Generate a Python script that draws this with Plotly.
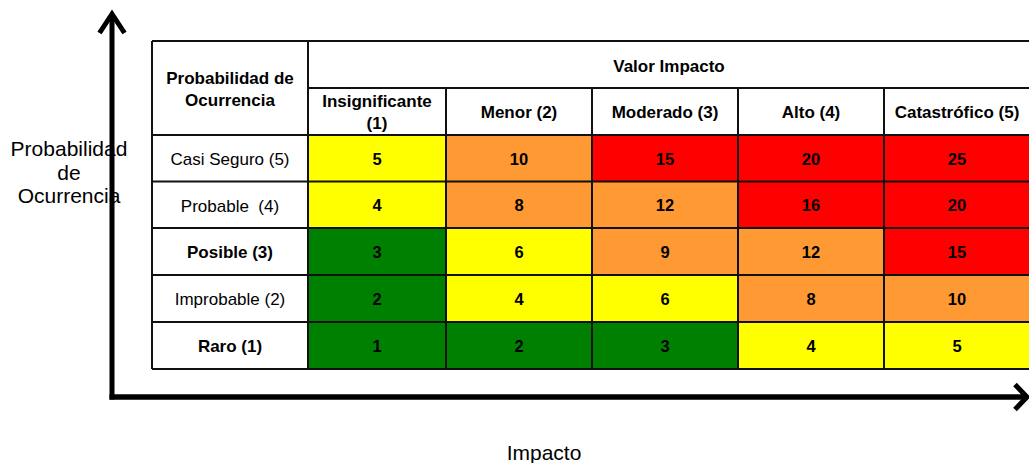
import plotly.graph_objects as go

# ---- content -------------------------------------------------------------
impact_levels = ["Insignificante<br>(1)", "Menor (2)", "Moderado (3)", "Alto (4)", "Catastrófico (5)"]
probability_levels = ["Casi Seguro (5)", "Probable \u00a0(4)", "Posible (3)", "Improbable (2)", "Raro (1)"]
risk_values = [
    [5, 10, 15, 20, 25],
    [4, 8, 12, 16, 20],
    [3, 6, 9, 12, 15],
    [2, 4, 6, 8, 10],
    [1, 2, 3, 4, 5],
]
corner_header = "Probabilidad de<br>Ocurrencia"
impact_header = "Valor Impacto"
y_title_lines = ["Probabilidad", "de", "Ocurrencia"]
x_title = "Impacto"

# ---- layout geometry (canvas units, y grows downward) ---------------------
W, H = 1029, 463
TABLE_LEFT = 152
TABLE_TOP = 41
HEADER_SPLIT = 88
COL_EDGES = [308, 446, 592, 738, 884, 1030]
ROW_EDGES = [135, 181.5, 228, 275, 322, 369]
bold_rows = [False, False, True, False, True]
TEXT_DY = 2.5  # optical baseline correction for centred text
Y_TITLE_POS = [148, 172, 195]

FONT = "Liberation Sans, Arial, sans-serif"
GREEN, YELLOW, ORANGE, RED = "#008000", "#FFFF00", "#FF9933", "#FF0000"
# risk bands: 1-3 low, 4-6 medium, 8-12 high, 15-25 extreme
colorscale = [
    [0.0, GREEN], [0.14, GREEN],
    [0.14, YELLOW], [0.28, YELLOW],
    [0.28, ORANGE], [0.52, ORANGE],
    [0.52, RED], [1.0, RED],
]

col_centers = [(a + b) / 2 for a, b in zip(COL_EDGES[:-1], COL_EDGES[1:])]
row_centers = [(a + b) / 2 + TEXT_DY for a, b in zip(ROW_EDGES[:-1], ROW_EDGES[1:])]
label_center = (TABLE_LEFT + COL_EDGES[0]) / 2

fig = go.Figure()

# coloured risk cells
fig.add_trace(go.Heatmap(
    x=COL_EDGES, y=ROW_EDGES, z=risk_values,
    colorscale=colorscale, zmin=0, zmax=25,
    showscale=False, hoverinfo="skip",
))

# risk value in each cell
cx, cy, ct = [], [], []
for i, row in enumerate(risk_values):
    for j, v in enumerate(row):
        cx.append(col_centers[j])
        cy.append(row_centers[i])
        ct.append(f"<b>{v}</b>")
fig.add_trace(go.Scatter(
    x=cx, y=cy, text=ct, mode="text", hoverinfo="skip",
    textfont=dict(family=FONT, size=16.5, color="black"), cliponaxis=False,
))

# impact column headers
fig.add_trace(go.Scatter(
    x=col_centers, y=[(HEADER_SPLIT + ROW_EDGES[0]) / 2 + TEXT_DY] * len(impact_levels),
    text=[f"<b>{t}</b>" for t in impact_levels], mode="text", hoverinfo="skip",
    textfont=dict(family=FONT, size=17, color="black"), cliponaxis=False,
))

# probability row labels
fig.add_trace(go.Scatter(
    x=[label_center] * len(probability_levels), y=row_centers,
    text=[f"<b>{t}</b>" if b else t for t, b in zip(probability_levels, bold_rows)],
    mode="text", hoverinfo="skip",
    textfont=dict(family=FONT, size=17, color="black"), cliponaxis=False,
))

# corner and group headers
fig.add_trace(go.Scatter(
    x=[label_center, (COL_EDGES[0] + COL_EDGES[-1]) / 2],
    y=[(TABLE_TOP + ROW_EDGES[0]) / 2 + TEXT_DY, (TABLE_TOP + HEADER_SPLIT) / 2 + TEXT_DY + 1],
    text=[f"<b>{corner_header}</b>", f"<b>{impact_header}</b>"],
    mode="text", hoverinfo="skip",
    textfont=dict(family=FONT, size=17, color="black"), cliponaxis=False,
))

# axis titles
fig.add_trace(go.Scatter(
    x=[69] * len(y_title_lines) + [544], y=[p + TEXT_DY for p in Y_TITLE_POS] + [452 + TEXT_DY],
    text=y_title_lines + [x_title],
    mode="text", hoverinfo="skip",
    textfont=dict(family=FONT, size=21, color="black"), cliponaxis=False,
))

shapes = []
LINE = dict(color="#111111", width=2)
# horizontal rules
for y, x0 in [(TABLE_TOP, TABLE_LEFT), (HEADER_SPLIT, COL_EDGES[0])] + [(y, TABLE_LEFT) for y in ROW_EDGES]:
    shapes.append(dict(type="line", x0=x0, x1=W + 2, y0=y, y1=y, line=LINE, layer="above"))
# vertical rules
for x, y0 in [(TABLE_LEFT, TABLE_TOP), (COL_EDGES[0], TABLE_TOP)] + [(x, HEADER_SPLIT) for x in COL_EDGES[1:]]:
    shapes.append(dict(type="line", x0=x, x1=x, y0=y0, y1=ROW_EDGES[-1], line=LINE, layer="above"))

# axis arrows
ARROW = dict(color="black", width=5)
shapes += [
    dict(type="line", x0=112, x1=112, y0=15, y1=399.5, line=ARROW, layer="above"),
    dict(type="path", path="M 99.5 33 L 112 14 L 124.5 33", line=ARROW, layer="above"),
    dict(type="line", x0=109.5, x1=1026, y0=397, y1=397, line=dict(color="black", width=5.5), layer="above"),
    dict(type="path", path="M 1015 384.5 L 1027 397 L 1015 409.5", line=ARROW, layer="above"),
]

fig.update_layout(
    width=W, height=H, autosize=False,
    margin=dict(l=0, r=0, t=0, b=0, pad=0),
    paper_bgcolor="white", plot_bgcolor="white",
    showlegend=False, shapes=shapes,
    xaxis=dict(range=[0, W], visible=False, fixedrange=True),
    yaxis=dict(range=[H, 0], visible=False, fixedrange=True),
)

fig.write_html("out.html")
